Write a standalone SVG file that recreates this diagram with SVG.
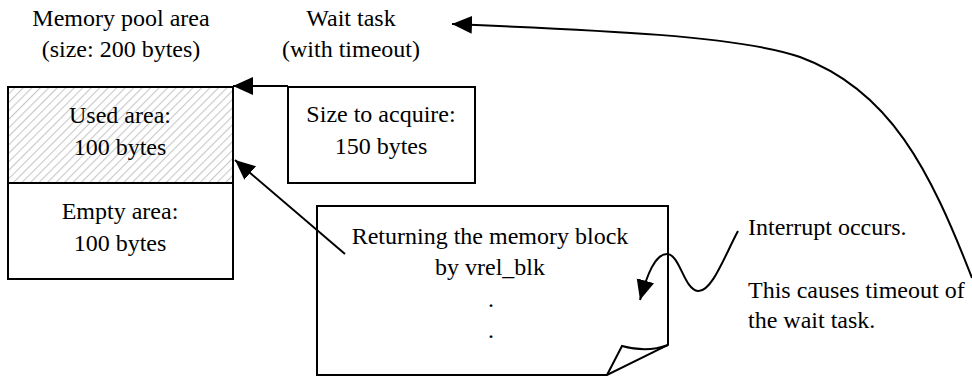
<svg xmlns="http://www.w3.org/2000/svg" width="972" height="376" viewBox="0 0 972 376">
<style>
text{font-family:'Liberation Serif','Times New Roman',serif;font-size:24px;fill:#000}
.c{text-anchor:middle}
.box{fill:#fff;stroke:#000;stroke-width:2}
.ln{fill:none;stroke:#000;stroke-width:2}
</style>
<defs>
<pattern id="hatch" patternUnits="userSpaceOnUse" width="6" height="6" patternTransform="rotate(45)">
<rect width="6" height="6" fill="#fff"/>
<line x1="0" y1="0" x2="0" y2="6" stroke="#c8c8c8" stroke-width="2.2"/>
</pattern>
<marker id="ah" markerUnits="userSpaceOnUse" markerWidth="22" markerHeight="20" refX="20" refY="9" orient="auto">
<path d="M0,0 L20,9 L0,18 z" fill="#000"/>
</marker>
</defs>
<g id="labels">
<text class="c" x="121" y="26">Memory pool area</text>
<text class="c" x="121" y="57">(size: 200 bytes)</text>
<text class="c" x="351" y="26">Wait task</text>
<text class="c" x="351" y="57">(with timeout)</text>
</g>
<g id="pool">
<rect x="8" y="87" width="225" height="96" fill="url(#hatch)" stroke="#000" stroke-width="2"/>
<rect class="box" x="8" y="183" width="225" height="96"/>
<text class="c" x="120" y="123">Used area:</text>
<text class="c" x="120" y="155">100 bytes</text>
<text class="c" x="120" y="219">Empty area:</text>
<text class="c" x="120" y="251">100 bytes</text>
</g>
<g id="request">
<rect class="box" x="288" y="87" width="187" height="96"/>
<text class="c" x="381" y="122">Size to acquire:</text>
<text class="c" x="381" y="154">150 bytes</text>
</g>
<g id="release">
<path class="box" d="M317,206 L668,206 L668,345 L607,375 L317,375 z"/>
<path class="ln" d="M607,375 L622,346 C640,351 655,350 668,345"/>
<text class="c" x="490" y="244">Returning the memory block</text>
<text class="c" x="490" y="275">by vrel_blk</text>
<text class="c" x="491" y="307">.</text>
<text class="c" x="491" y="338">.</text>
</g>
<g id="note">
<text x="748" y="235">Interrupt occurs.</text>
<text x="748" y="298">This causes timeout of</text>
<text x="748" y="328">the wait task.</text>
</g>
<g id="connectors">
<path class="ln" d="M288,86 L233,86" marker-end="url(#ah)"/>
<path class="ln" d="M345,254 L235,160" marker-end="url(#ah)"/>
<path class="ln" d="M738,231 C725,255 712,292 698,291 C684,290 680,254 667,254 C655,254 647,275 640,300" marker-end="url(#ah)"/>
<path class="ln" d="M972,278 C930,170 890,90 800,57 C740,36 600,30 452,24" marker-end="url(#ah)"/>
</g>
</svg>
